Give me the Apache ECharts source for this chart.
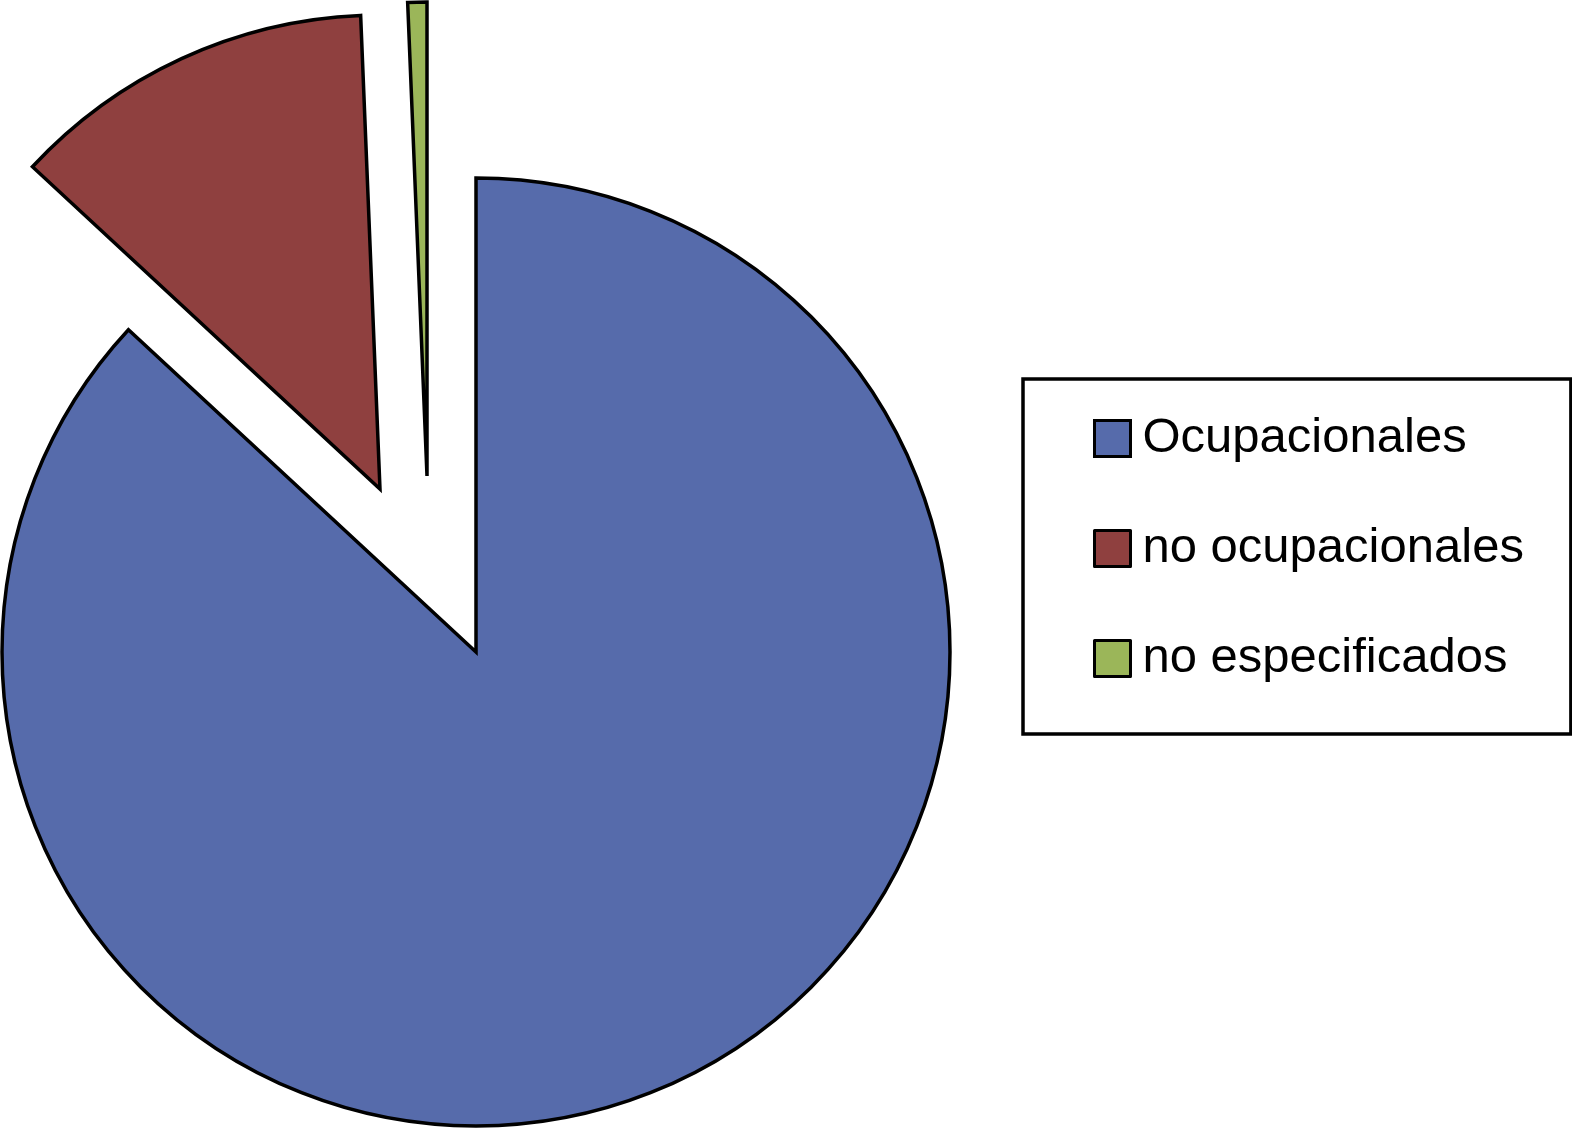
<!DOCTYPE html>
<html>
<head>
<meta charset="utf-8">
<script src="https://cdn.jsdelivr.net/npm/echarts@6/dist/echarts.min.js"></script>
<style>
  html, body { margin: 0; padding: 0; background: #ffffff; }
  #chart { width: 1572px; height: 1132px; }
</style>
</head>
<body>
<div id="chart"></div>
<script>
// 数据
const categories = ['Ocupacionales', 'no ocupacionales', 'no especificados']
const values = [86.9, 12.45, 0.65]
const colors = ['#566BAB', '#8F403F', '#9BB659']
// 每块扇区的圆心（分离效果）
const centers = [[476, 652], [380, 489], [427, 476]]

const myChart = echarts.init(document.getElementById('chart'))

const series = categories.map((name, i) => ({
  type: 'pie',
  center: centers[i],
  radius: 474,
  startAngle: 90,
  clockwise: true,
  silent: true,
  animation: false,
  label: { show: false },
  labelLine: { show: false },
  data: categories.map((n, j) => ({
    name: n,
    value: values[j],
    itemStyle: j === i
      ? { color: colors[j], borderColor: '#000000', borderWidth: 3.5, borderJoin: 'miter' }
      : { color: 'transparent', borderWidth: 0 }
  }))
}))

myChart.setOption({
  backgroundColor: '#ffffff',
  legend: {
    orient: 'vertical',
    left: 1023,
    top: 379,
    padding: [35, 47, 51, 70],
    itemGap: 61,
    itemWidth: 36,
    itemHeight: 36,
    icon: 'rect',
    borderColor: '#000000',
    borderWidth: 3.5,
    selectedMode: false,
    itemStyle: {
      borderColor: '#000000',
      borderWidth: 3
    },
    textStyle: {
      color: '#000000',
      fontSize: 49,
      fontFamily: 'Liberation Sans, Arial, sans-serif',
      padding: [0, 0, 0, 7]
    },
    data: categories.map((n, i) => ({
      name: n,
      itemStyle: { color: colors[i], borderColor: '#000000', borderWidth: 3 }
    }))
  },
  series: series
})
</script>
</body>
</html>
